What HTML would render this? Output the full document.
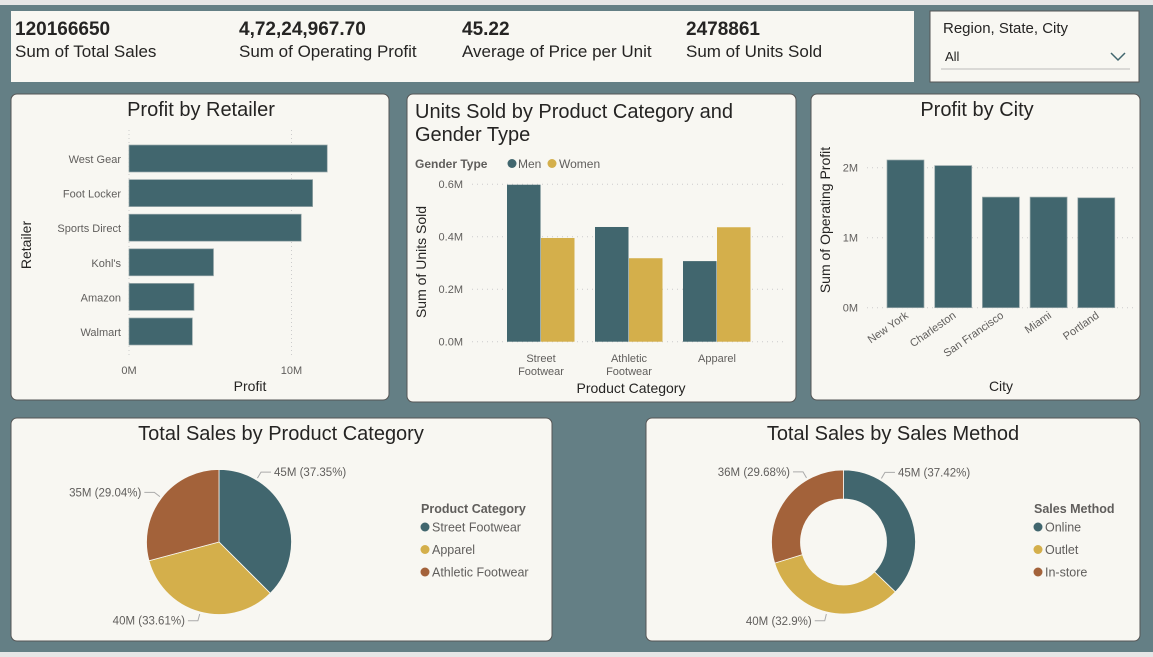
<!DOCTYPE html>
<html><head><meta charset="utf-8"><style>
body{margin:0;width:1153px;height:657px;overflow:hidden;background:#647f85;font-family:"Liberation Sans",sans-serif}
svg{display:block}
text{font-family:"Liberation Sans",sans-serif}
</style></head><body>
<svg id="s" width="1153" height="657" viewBox="0 0 1153 657">
<rect x="0" y="0" width="1153" height="5" fill="#e6e6e6"/>
<rect x="0" y="652" width="1153" height="5" fill="#e6e6e6"/>
<g>
<rect x="11" y="11" width="903" height="71" fill="#f8f7f2"/>
<g font-size="19" font-weight="bold" fill="#252423">
<text x="15" y="35">120166650</text><text x="239" y="35">4,72,24,967.70</text><text x="462" y="35">45.22</text><text x="686" y="35">2478861</text></g>
<g font-size="17" fill="#252423">
<text x="15" y="57">Sum of Total Sales</text><text x="239" y="57">Sum of Operating Profit</text><text x="462" y="57">Average of Price per Unit</text><text x="686" y="57">Sum of Units Sold</text></g>
</g>
<g>
<rect x="930" y="11" width="209" height="71" fill="#f8f7f2" stroke="#555" stroke-width="1"/>
<text x="943" y="33" font-size="15" fill="#252423">Region, State, City</text>
<line x1="941" y1="69" x2="1130" y2="69" stroke="#bbb"/>
<text x="945" y="61" font-size="13" fill="#252423">All</text>
<polyline points="1111,53 1118,60 1125,53" fill="none" stroke="#41666e" stroke-width="1.5"/>
</g>
<g fill="#f8f7f2" stroke="#555" stroke-width="1">
<rect x="11" y="94" width="378" height="306" rx="6"/>
<rect x="407" y="94" width="389" height="308" rx="6"/>
<rect x="811" y="94" width="329" height="306" rx="6"/>
<rect x="11" y="418" width="541" height="223" rx="6"/>
<rect x="646" y="418" width="494" height="223" rx="6"/>
</g>
<g font-size="20" fill="#252423">
<text x="201" y="116" text-anchor="middle">Profit by Retailer</text>
<text x="415" y="118">Units Sold by Product Category and</text>
<text x="415" y="141">Gender Type</text>
<text x="977" y="116" text-anchor="middle">Profit by City</text>
<text x="281" y="440" text-anchor="middle">Total Sales by Product Category</text>
<text x="893" y="440" text-anchor="middle">Total Sales by Sales Method</text>
</g>
<g id="g1"></g><g id="g2"></g><g id="g3"></g><g id="g4"></g><g id="g5"></g>
</svg>
<script>
const retailers=["West Gear","Foot Locker","Sports Direct","Kohl's","Amazon","Walmart"];
const retailerProfit=[12.2,11.3,10.6,5.2,4.0,3.9];
const retailerTicks=[0,10];
const prodCats=[["Street","Footwear"],["Athletic","Footwear"],["Apparel"]];
const menUnits=[0.598,0.437,0.307];
const womenUnits=[0.395,0.318,0.436];
const unitTicks=[0,0.2,0.4,0.6];
const cities=["New York","Charleston","San Francisco","Miami","Portland"];
const cityProfit=[2.11,2.03,1.58,1.58,1.57];
const cityTicks=[0,1,2];
const pieCats=["Street Footwear","Apparel","Athletic Footwear"];
const pieVals=[45,40,35];
const piePct=[37.35,33.61,29.04];
const methods=["Online","Outlet","In-store"];
const methodVals=[45,40,36];
const methodPct=[37.42,32.9,29.68];
const C=["#41666e","#d4af4b","#a3623a"];
const NS="http://www.w3.org/2000/svg";
function el(p,t,a,txt){const e=document.createElementNS(NS,t);for(const k in a)e.setAttribute(k,a[k]);if(txt!=null)e.textContent=txt;p.appendChild(e);return e;}
// Chart 1
(function(){const g=document.getElementById('g1');
const x=v=>129+v*16.25;const rowY=i=>145+i*34.6;
retailerTicks.forEach(t=>{el(g,'line',{x1:x(t),x2:x(t),y1:130,y2:355,stroke:'#ccc','stroke-dasharray':'1,3'});
el(g,'text',{x:x(t),y:374,'font-size':11,fill:'#605e5c','text-anchor':'middle'},t+'M');});
retailers.forEach((r,i)=>{const b=el(g,'rect',{x:129,y:rowY(i),width:x(retailerProfit[i])-129,height:27,fill:C[0],stroke:'#9aa9ab','stroke-width':0.7});


el(g,'text',{x:121,y:rowY(i)+18,'font-size':11,fill:'#605e5c','text-anchor':'end'},r);});
el(g,'text',{x:250,y:391,'font-size':14,fill:'#252423','text-anchor':'middle'},'Profit');
el(g,'text',{x:31,y:245,'font-size':14,fill:'#252423','text-anchor':'middle',transform:'rotate(-90 31 245)'},'Retailer');
})();
// Chart 2
(function(){const g=document.getElementById('g2');
const y=v=>341.7-v*262.5;const cx=i=>541+i*88;
el(g,'text',{x:415,y:168,'font-size':12,'font-weight':'bold',fill:'#605e5c'},'Gender Type');
el(g,'circle',{cx:512,cy:163.5,r:4.5,fill:C[0]});el(g,'text',{x:518,y:168,'font-size':12,fill:'#605e5c'},'Men');
el(g,'circle',{cx:552,cy:163.5,r:4.5,fill:C[1]});el(g,'text',{x:559,y:168,'font-size':12,fill:'#605e5c'},'Women');
unitTicks.forEach(t=>{el(g,'line',{x1:472,x2:787,y1:y(t),y2:y(t),stroke:'#ccc','stroke-dasharray':'1,4'});
el(g,'text',{x:463,y:y(t)+4,'font-size':11,fill:'#605e5c','text-anchor':'end'},t.toFixed(1)+'M');});
prodCats.forEach((c,i)=>{
const m=el(g,'rect',{x:cx(i)-34,y:y(menUnits[i]),width:33.5,height:341.7-y(menUnits[i]),fill:C[0]});


const w=el(g,'rect',{x:cx(i),y:y(womenUnits[i]),width:33.5,height:341.7-y(womenUnits[i]),fill:C[1]});


c.forEach((s,j)=>el(g,'text',{x:cx(i),y:362+j*13,'font-size':11,fill:'#605e5c','text-anchor':'middle'},s));});
el(g,'text',{x:631,y:393,'font-size':14,fill:'#252423','text-anchor':'middle'},'Product Category');
el(g,'text',{x:426,y:262,'font-size':14,fill:'#252423','text-anchor':'middle',transform:'rotate(-90 426 262)'},'Sum of Units Sold');
})();
// Chart 3
(function(){const g=document.getElementById('g3');
const y=v=>307.7-v*70;const bx=i=>887+i*47.7;
cityTicks.forEach(t=>{el(g,'line',{x1:867,x2:1133,y1:y(t),y2:y(t),stroke:'#ccc','stroke-dasharray':'1,4'});
el(g,'text',{x:858,y:y(t)+4,'font-size':11,fill:'#605e5c','text-anchor':'end'},t+'M');});
cities.forEach((c,i)=>{const b=el(g,'rect',{x:bx(i),y:y(cityProfit[i]),width:37,height:307.7-y(cityProfit[i]),fill:C[0],stroke:'#9aa9ab','stroke-width':0.7});


const tx=bx(i)+22,ty=317;
el(g,'text',{x:tx,y:ty,'font-size':11,fill:'#605e5c','text-anchor':'end',transform:`rotate(-35 ${tx} ${ty})`},c);});
el(g,'text',{x:1001,y:391,'font-size':14,fill:'#252423','text-anchor':'middle'},'City');
el(g,'text',{x:830,y:220,'font-size':14,fill:'#252423','text-anchor':'middle',transform:'rotate(-90 830 220)'},'Sum of Operating Profit');
})();
// Pies
function pie(g,cx,cy,r,ri,vals,pcts,cats,title,legX,labs,fr){
const tot=vals.reduce((a,b)=>a+b,0);let a0=-Math.PI/2;
vals.forEach((v,i)=>{const a1=a0+v/tot*2*Math.PI;const lg=a1-a0>Math.PI?1:0;
const p=(a,rr)=>[cx+rr*Math.cos(a),cy+rr*Math.sin(a)];
const [x0,y0]=p(a0,r),[x1,y1]=p(a1,r);let d=`M${cx},${cy}L${x0},${y0}A${r},${r} 0 ${lg} 1 ${x1},${y1}Z`;
if(ri){const [u0,v0]=p(a0,ri),[u1,v1]=p(a1,ri);d=`M${x0},${y0}A${r},${r} 0 ${lg} 1 ${x1},${y1}L${u1},${v1}A${ri},${ri} 0 ${lg} 0 ${u0},${v0}Z`;}
const s=el(g,'path',{d:d,fill:C[i],stroke:'#f8f7f2','stroke-width':0.8});


const am=a0+(a1-a0)*fr[i];const [ex,ey]=p(am,r+2);const [fx,fy]=p(am,r+9);const right=Math.cos(am)>0;const hx=fx+(right?10:-10);
el(g,'polyline',{points:`${ex},${ey} ${fx},${fy} ${hx},${fy}`,fill:'none',stroke:'#aaa'});
el(g,'text',{x:hx+(right?3:-3),y:fy+4,'font-size':11.5,fill:'#605e5c','text-anchor':right?'start':'end'},labs[i]+' ('+pcts[i]+'%)');
a0=a1;});
el(g,'text',{x:legX,y:513,'font-size':12.5,'font-weight':'bold',fill:'#605e5c'},title);
cats.forEach((c,i)=>{el(g,'circle',{cx:legX+4,cy:527+i*22.5,r:4.5,fill:C[i]});
const t=el(g,'text',{x:legX+11,y:531.5+i*22.5,'font-size':12.5,fill:'#605e5c'},c);

});}
pie(document.getElementById('g4'),219,542,72.5,0,pieVals,piePct,pieCats,'Product Category',421,pieVals.map(v=>v+'M'),[0.23,0.5,0.5]);
pie(document.getElementById('g5'),843.5,542,72,43,methodVals,methodPct,methods,'Sales Method',1034,methodVals.map(v=>v+'M'),[0.23,0.5,0.72]);
</script>
</body></html>
